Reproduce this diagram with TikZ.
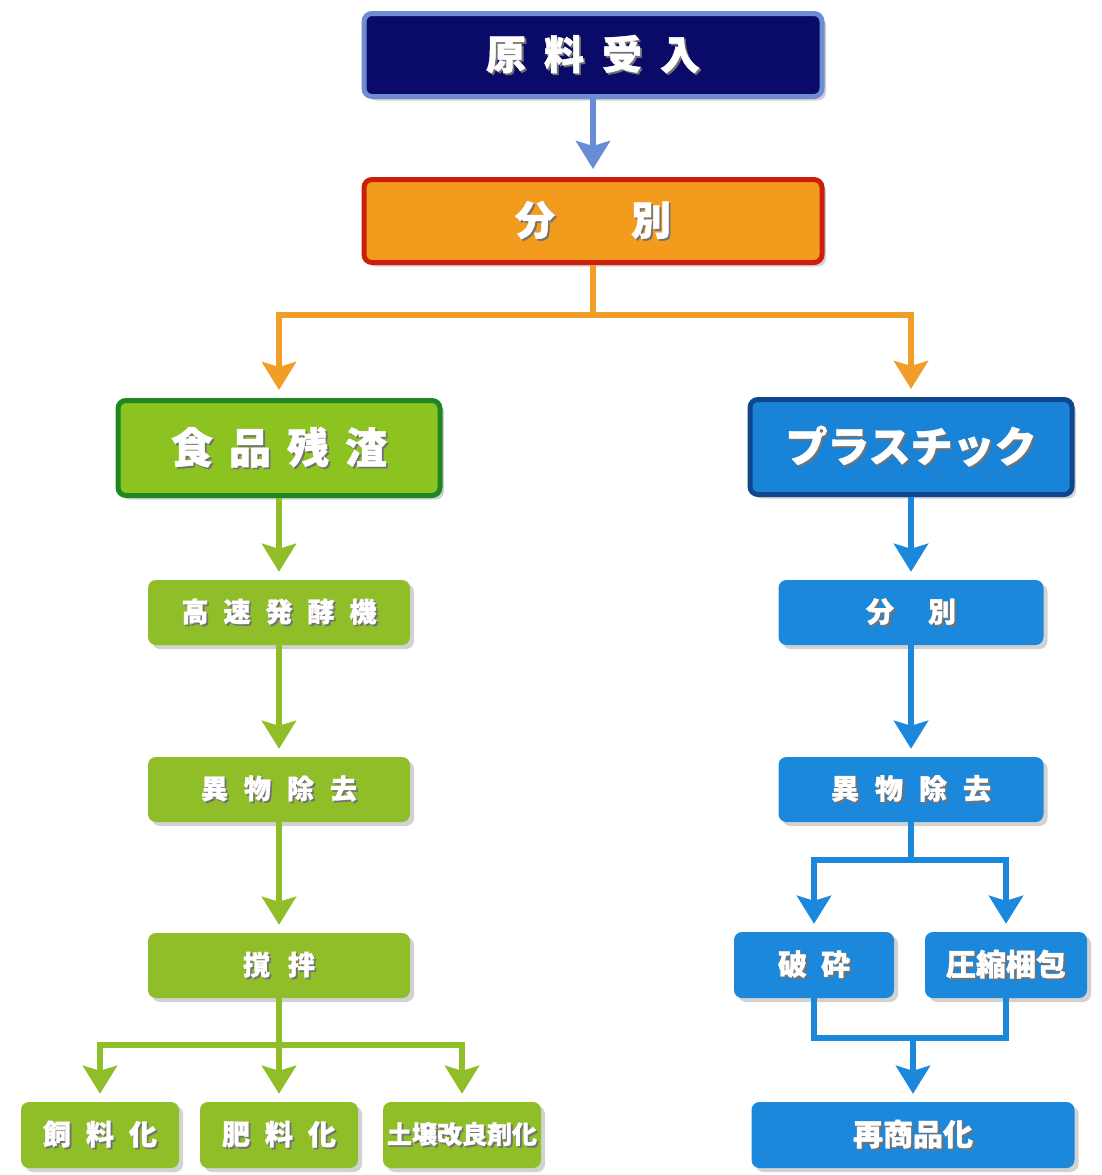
\documentclass[tikz,border=0pt]{standalone}
\usepackage{fontspec}
\newfontfamily\jp[BoldFeatures={FakeBold=1.2}]{Noto Sans CJK JP}
\usetikzlibrary{arrows.meta,shadows,calc}
\definecolor{navyfill}{RGB}{10,10,105}
\definecolor{navyedge}{RGB}{110,140,210}
\definecolor{topar}{RGB}{105,140,215}
\definecolor{orfill}{RGB}{242,155,28}
\definecolor{oredge}{RGB}{205,30,10}
\definecolor{orar}{RGB}{240,158,40}
\definecolor{grfill}{RGB}{140,195,32}
\definecolor{gredge}{RGB}{30,135,35}
\definecolor{grbox}{RGB}{143,190,40}
\definecolor{blfill}{RGB}{25,132,215}
\definecolor{bledge}{RGB}{15,70,140}
\definecolor{blbox}{RGB}{28,136,220}
\newcommand\sh[1]{\makebox[0pt][l]{\hspace{1.8pt}\raisebox{-1.8pt}{\textcolor{black!55}{#1}}}#1}
\newcommand\gp[1]{\hspace{#1pt}}
\begin{document}
\begin{tikzpicture}[x=1pt,y=-1pt,
  box/.style={rounded corners=8pt, inner sep=0pt, text=white,
    drop shadow={shadow xshift=4pt,shadow yshift=-4pt,fill=black!35}},
  fs/.style={font=\jp\bfseries\fontsize{#1}{#1}\selectfont},
  bigbox/.style={box, line width=5pt, minimum width=458pt, minimum height=83pt, fs=40},
  head/.style={box, line width=5pt, minimum width=322pt, minimum height=95pt, fs=42},
  gbox/.style={box, fill=grbox, minimum width=262pt, minimum height=65pt, fs=27},
  bbox/.style={box, fill=blbox, minimum width=265pt, minimum height=65pt, fs=28},
  leaf/.style={box, fill=grbox, minimum width=158pt, minimum height=66pt, fs=28},
  ln/.style={line width=6pt},
  arr/.style={line width=6pt, -{Stealth[width=34pt,length=28pt,inset=5pt]}, shorten >=8pt}
]
\useasboundingbox (0,0) rectangle (1102,1175);

% top
\node[bigbox, fill=navyfill, draw=navyedge] (raw) at (593,55)
  {\sh{原\gp{18}料\gp{18}受\gp{18}入}};
\node[bigbox, fill=orfill, draw=oredge] (fen) at (593,221)
  {\sh{分\gp{76}別}};

% headers
\node[head, fill=grfill, draw=gredge] (food) at (279,448)
  {\sh{食\gp{16}品\gp{16}残\gp{16}渣}};
\node[head, fill=blfill, draw=bledge] (plastic) at (911,447)
  {\sh{プラスチック}};

% left column
\node[gbox] (gaosu) at (279,612.5) {\sh{高\gp{15}速\gp{15}発\gp{15}酵\gp{15}機}};
\node[gbox] (gibutsu) at (279,789.5) {\sh{異\gp{16}物\gp{16}除\gp{16}去}};
\node[gbox] (kakuhan) at (279,965.5) {\sh{撹\gp{18}拌}};
\node[leaf] (shiryo) at (100,1135) {\sh{飼\gp{15}料\gp{15}化}};
\node[leaf] (hiryo) at (279,1135) {\sh{肥\gp{15}料\gp{15}化}};
\node[leaf, fs=25] (dojo) at (462,1135) {\sh{土壌改良剤化}};

% right column
\node[bbox] (bfen) at (911,612.5) {\sh{分\gp{34}別}};
\node[bbox] (bibutsu) at (911,789.5) {\sh{異\gp{16}物\gp{16}除\gp{16}去}};
\node[box, fill=blbox, minimum width=160pt, minimum height=66pt, fs=29] (hasai) at (814,965) {\sh{破\gp{14}砕}};
\node[box, fill=blbox, minimum width=162pt, minimum height=66pt, fs=30] (asshuku) at (1006,965) {\sh{圧縮梱包}};
\node[box, fill=blbox, minimum width=323pt, minimum height=66pt, fs=30] (saisho) at (913,1135) {\sh{再商品化}};

% connectors top
\draw[arr, draw=topar] (raw) -- (fen);
\draw[ln, draw=orar] (fen.south) -- ++(0,50) coordinate (oj);
\draw[arr, draw=orar] (oj) -| (food.north);
\draw[arr, draw=orar] (oj) -| (plastic.north);

% left connectors
\draw[arr, draw=grbox] (food) -- (gaosu);
\draw[arr, draw=grbox] (gaosu) -- (gibutsu);
\draw[arr, draw=grbox] (gibutsu) -- (kakuhan);
\draw[ln, draw=grbox] (kakuhan.south) -- ++(0,47) coordinate (gj);
\draw[arr, draw=grbox] (gj) -| (shiryo.north);
\draw[arr, draw=grbox] (gj) -- (hiryo.north);
\draw[arr, draw=grbox] (gj) -| (dojo.north);

% right connectors
\draw[arr, draw=blbox] (plastic) -- (bfen);
\draw[arr, draw=blbox] (bfen) -- (bibutsu);
\draw[ln, draw=blbox] (bibutsu.south) -- ++(0,38) coordinate (bj);
\draw[arr, draw=blbox] (bj) -| (hasai.north);
\draw[arr, draw=blbox] (bj) -| (asshuku.north);
\path (hasai.south) ++(0,40) coordinate (mj);
\draw[ln, draw=blbox] (hasai.south) -- (mj) -| (asshuku.south);
\draw[arr, draw=blbox] (mj -| saisho.north) -- (saisho.north);
\end{tikzpicture}
\end{document}
